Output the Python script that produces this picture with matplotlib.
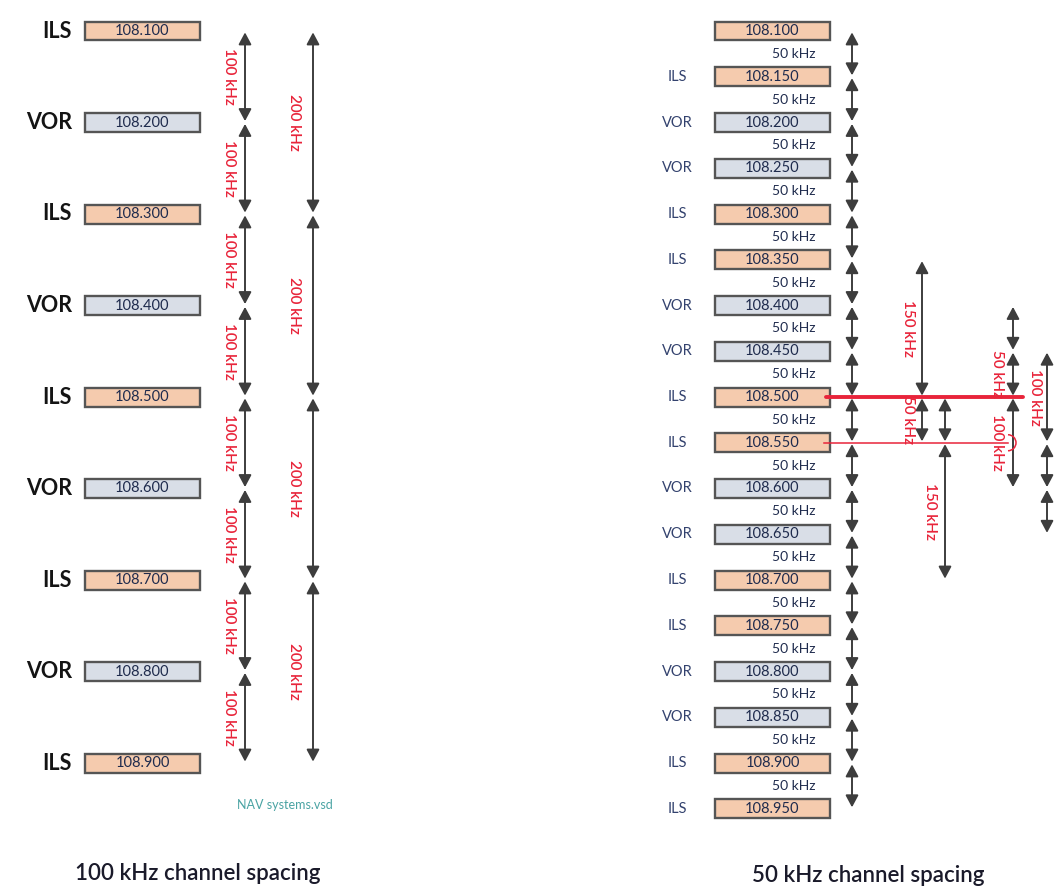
import matplotlib
matplotlib.use("Agg")
import matplotlib.pyplot as plt
from matplotlib.patches import Rectangle, Arc

plt.rcParams['font.family'] = ['Lato', 'DejaVu Sans']

# ---------------- data ----------------
left_freqs = [108.100, 108.200, 108.300, 108.400, 108.500, 108.600, 108.700, 108.800, 108.900]
left_types = ['ILS', 'VOR', 'ILS', 'VOR', 'ILS', 'VOR', 'ILS', 'VOR', 'ILS']
left_step_label = '100 kHz'
left_wide_spans = [(108.100, 108.300), (108.300, 108.500), (108.500, 108.700), (108.700, 108.900)]
left_wide_label = '200 kHz'

right_freqs = [108.100, 108.150, 108.200, 108.250, 108.300, 108.350, 108.400, 108.450, 108.500,
               108.550, 108.600, 108.650, 108.700, 108.750, 108.800, 108.850, 108.900, 108.950]
right_types = ['', 'ILS', 'VOR', 'VOR', 'ILS', 'ILS', 'VOR', 'VOR', 'ILS',
               'ILS', 'VOR', 'VOR', 'ILS', 'ILS', 'VOR', 'VOR', 'ILS', 'ILS']
right_box_kind = ['ILS'] + right_types[1:]
right_step_label = '50 kHz'

# extra spans on the right: (column, start, end, label)
extra_spans = [
    ('a', 108.350, 108.500, '150 kHz'),
    ('a', 108.500, 108.550, '50 kHz'),
    ('b', 108.500, 108.550, ''),
    ('b', 108.550, 108.700, '150 kHz'),
    ('c', 108.400, 108.450, ''),
    ('c', 108.450, 108.500, '50 kHz'),
    ('c', 108.500, 108.600, '100 kHz'),
    ('d', 108.450, 108.550, '100 kHz'),
    ('d', 108.550, 108.600, ''),
    ('d', 108.600, 108.650, ''),
]
red_freqs = [108.500, 108.550]

titles = ['100 kHz channel spacing', '50 kHz channel spacing']
file_note = 'NAV systems.vsd'

# ---------------- layout / style ----------------
W, H = 1058, 892
PX = 915.0  # pixels per MHz
F0, Y0 = 108.100, 31.0


def fy(px):
    return F0 + (px - Y0) / PX


fig = plt.figure(figsize=(W / 100, H / 100), dpi=100)
ax = fig.add_axes([0, 0, 1, 1])
ax.set_xlim(0, W)
ax.set_ylim(fy(H), fy(0))
ax.axis('off')

box_fill = {'ILS': '#f5cbae', 'VOR': '#d9dee7'}
box_edge = '#555555'
red = '#e8243a'
arrow_col = '#3d3d3d'
navy = '#1f2b4d'
box_h = 19 / PX


def box(x0, x1, f, kind, fs):
    ax.add_patch(Rectangle((x0, f - box_h / 2), x1 - x0, box_h, facecolor=box_fill[kind],
                           edgecolor=box_edge, lw=1.7, zorder=2))
    ax.text((x0 + x1) / 2, f, f'{f:.3f}', ha='center', va='center', fontsize=10.5,
            color=navy, zorder=3)


def darrow(x, f0, f1, ms=12, lw=1.4):
    ax.annotate('', xy=(x, f1), xytext=(x, f0),
                arrowprops=dict(arrowstyle='<|-|>,head_length=0.6,head_width=0.32',
                                color=arrow_col, lw=lw, mutation_scale=ms,
                                shrinkA=1, shrinkB=1), zorder=4)


def vlabel(x, f, s, fs=11):
    ax.text(x, f, s, rotation=-90, ha='center', va='center', fontsize=fs,
            color=red, zorder=5, fontweight='semibold')


# ---------- left panel ----------
for f, t in zip(left_freqs, left_types):
    box(85, 200, f, t, 10.5)
    ax.text(72, f, t, ha='right', va='center', fontsize=15.5, fontweight='bold',
            color='#141414')

for a, b in zip(left_freqs[:-1], left_freqs[1:]):
    darrow(245, a, b)
    vlabel(229, (a + b) / 2, left_step_label)

for a, b in left_wide_spans:
    darrow(313, a, b)
    vlabel(294, (a + b) / 2, left_wide_label)

ax.text(285, fy(805), file_note, ha='center', va='center', fontsize=9,
        color='#4aa3a3')
ax.text(198, fy(874), titles[0], ha='center', va='center', fontsize=16,
        color='#1a1a2a', fontweight='semibold')

# ---------- right panel ----------
for f, t, k in zip(right_freqs, right_types, right_box_kind):
    box(715, 830, f, k, 10.5)
    if t:
        ax.text(677, f, t, ha='center', va='center', fontsize=10.5, color='#33426e')

for a, b in zip(right_freqs[:-1], right_freqs[1:]):
    darrow(852, a, b)
    ax.text(794, (a + b) / 2, right_step_label, ha='center', va='center',
            fontsize=10, color=navy)

col_x = {'a': 922, 'b': 945, 'c': 1013, 'd': 1047}
lab_dx = {'a': -14, 'b': -15, 'c': -16, 'd': -12}
for c, a, b, s in extra_spans:
    darrow(col_x[c], a, b)
    if s:
        vlabel(col_x[c] + lab_dx[c], (a + b) / 2, s)

# red reference lines
ax.plot([826, 1023], [red_freqs[0]] * 2, color=red, lw=2.8, zorder=6,
        solid_capstyle='round')
ax.plot([824, 1008], [red_freqs[1]] * 2, color=red, lw=1.1, zorder=6)
ax.add_patch(Arc((1008, red_freqs[1]), 16, 16 / PX, theta1=-80, theta2=80,
                 color=red, lw=1.1, zorder=6))

ax.text(868, fy(875), titles[1], ha='center', va='center', fontsize=16,
        color='#1a1a2a', fontweight='semibold')

fig.savefig('out.png', dpi=100, facecolor='white')
